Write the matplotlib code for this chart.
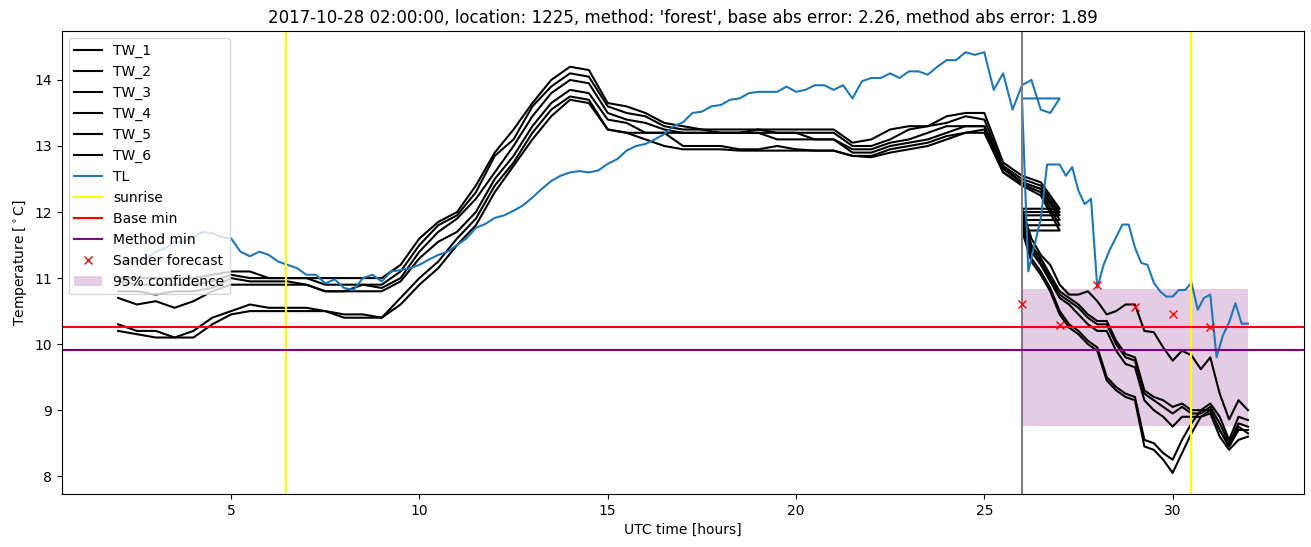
import matplotlib.pyplot as plt
import numpy as np

# observed period, half-hour readings (hours UTC)
t_obs = np.arange(2.0, 27.01, 0.5)
# forecast period, quarter-hour readings
t_fc = np.arange(26.0, 32.01, 0.25)
# TL forecast, ten-minute readings
t_tl_fc = np.arange(26.0, 32.01, 1 / 6)
# TL observed, quarter-hour readings
t_tl_obs = np.arange(2.0, 27.01, 0.25)

tw1_obs = [11.0, 11.0, 11.0, 11.0, 11.0, 11.05, 11.1, 11.1, 11.0, 11.0, 11.0, 11.0, 11.0,
           11.0, 11.0, 11.2, 11.6, 11.85, 12.0, 12.4, 12.9, 13.25, 13.65, 14.0, 14.2, 14.15,
           13.65, 13.6, 13.5, 13.35, 13.3, 13.25, 13.25, 13.25, 13.25, 13.25, 13.25, 13.25,
           13.25, 13.05, 13.1, 13.25, 13.3, 13.3, 13.45, 13.5, 13.5, 12.75, 12.55, 12.45, 12.05]
tw2_obs = [10.95, 10.9, 10.9, 10.9, 10.9, 10.95, 11.05, 11.0, 11.0, 11.0, 11.0, 10.9, 10.9,
           10.9, 10.9, 11.1, 11.5, 11.8, 11.95, 12.3, 12.85, 13.1, 13.6, 13.9, 14.1, 14.05,
           13.6, 13.5, 13.45, 13.3, 13.25, 13.25, 13.2, 13.2, 13.25, 13.2, 13.2, 13.2, 13.2,
           13.0, 13.0, 13.1, 13.25, 13.3, 13.35, 13.45, 13.4, 12.7, 12.5, 12.4, 12.0]
tw3_obs = [10.8, 10.8, 10.75, 10.8, 10.8, 10.85, 11.0, 10.95, 10.95, 10.95, 10.9, 10.8, 10.8,
           10.9, 10.85, 11.0, 11.4, 11.7, 11.9, 12.2, 12.6, 13.0, 13.45, 13.8, 14.0, 13.95,
           13.5, 13.4, 13.35, 13.25, 13.2, 13.2, 13.2, 13.2, 13.2, 13.2, 13.2, 13.1, 13.1,
           12.95, 12.95, 13.05, 13.1, 13.2, 13.3, 13.3, 13.3, 12.68, 12.45, 12.35, 11.95]
tw4_obs = [10.7, 10.6, 10.65, 10.55, 10.65, 10.8, 10.9, 10.9, 10.9, 10.9, 10.9, 10.8, 10.8,
           10.8, 10.8, 10.95, 11.3, 11.55, 11.7, 12.0, 12.5, 12.85, 13.3, 13.65, 13.85, 13.8,
           13.4, 13.35, 13.2, 13.2, 13.2, 13.2, 13.2, 13.2, 13.2, 13.1, 13.1, 13.1, 13.1,
           12.9, 12.9, 13.0, 13.05, 13.1, 13.2, 13.3, 13.3, 12.65, 12.45, 12.35, 11.88]
tw5_obs = [10.3, 10.2, 10.2, 10.1, 10.2, 10.4, 10.5, 10.6, 10.55, 10.55, 10.55, 10.5, 10.45,
           10.45, 10.4, 10.7, 11.0, 11.25, 11.6, 11.9, 12.4, 12.75, 13.2, 13.55, 13.75, 13.7,
           13.25, 13.2, 13.2, 13.2, 13.0, 13.0, 13.0, 12.95, 12.95, 13.0, 12.95, 12.93, 12.93,
           12.85, 12.85, 12.95, 13.0, 13.05, 13.15, 13.2, 13.25, 12.6, 12.42, 12.3, 11.8]
tw6_obs = [10.2, 10.15, 10.1, 10.1, 10.1, 10.3, 10.45, 10.5, 10.5, 10.5, 10.5, 10.5, 10.4,
           10.4, 10.4, 10.6, 10.9, 11.15, 11.5, 11.8, 12.3, 12.7, 13.1, 13.45, 13.7, 13.65,
           13.25, 13.2, 13.1, 13.0, 12.95, 12.95, 12.95, 12.93, 12.93, 12.93, 12.93, 12.93, 12.93,
           12.85, 12.83, 12.9, 12.95, 13.0, 13.1, 13.2, 13.2, 12.6, 12.4, 12.25, 11.72]

tw1_fc = [12.05, 11.6, 11.35, 11.2, 10.9, 10.75, 10.75, 10.8, 10.65, 10.45, 10.5, 10.6, 10.6,
          10.2, 10.18, 9.95, 9.75, 9.9, 9.83, 9.62, 9.8, 9.25, 8.86, 9.15, 9.0]
tw2_fc = [12.0, 11.5, 11.3, 11.05, 10.8, 10.7, 10.6, 10.45, 10.35, 10.35, 10.05, 9.85, 9.8,
          9.3, 9.2, 9.15, 9.05, 9.1, 9.0, 9.0, 9.1, 8.9, 8.55, 8.9, 8.85]
tw3_fc = [11.95, 11.45, 11.25, 11.0, 10.75, 10.65, 10.55, 10.4, 10.3, 10.3, 10.0, 9.8, 9.75,
          9.25, 9.15, 9.05, 8.95, 9.05, 8.95, 8.95, 9.05, 8.8, 8.5, 8.8, 8.75]
tw4_fc = [11.88, 11.4, 11.2, 10.95, 10.7, 10.6, 10.45, 10.3, 10.2, 10.2, 9.9, 9.7, 9.65,
          9.15, 9.0, 8.9, 8.75, 8.9, 8.9, 8.9, 9.0, 8.7, 8.45, 8.7, 8.7]
tw5_fc = [11.8, 11.3, 11.1, 10.85, 10.5, 10.3, 10.2, 10.05, 9.95, 9.5, 9.35, 9.25, 9.2,
          8.55, 8.5, 8.35, 8.25, 8.55, 8.8, 9.0, 9.0, 8.7, 8.45, 8.75, 8.65]
tw6_fc = [11.72, 11.25, 11.05, 10.8, 10.45, 10.25, 10.15, 10.0, 9.9, 9.45, 9.3, 9.2, 9.15,
          8.45, 8.4, 8.25, 8.05, 8.35, 8.65, 8.9, 8.95, 8.6, 8.4, 8.55, 8.6]

tl_obs = [11.2, 11.25, 11.25, 11.3, 11.4, 11.45, 11.55, 11.55, 11.62, 11.7, 11.68, 11.62,
          11.6, 11.4, 11.33, 11.4, 11.35, 11.25, 11.2, 11.15, 11.05, 11.05, 10.92, 10.98,
          10.85, 10.82, 11.0, 11.05, 10.95, 11.1, 11.12, 11.15, 11.2, 11.28, 11.35, 11.4,
          11.5, 11.6, 11.76, 11.82, 11.91, 11.95, 12.02, 12.1, 12.22, 12.35, 12.47, 12.55,
          12.6, 12.62, 12.6, 12.63, 12.73, 12.8, 12.93, 13.0, 13.03, 13.1, 13.18, 13.3,
          13.36, 13.5, 13.52, 13.6, 13.62, 13.7, 13.72, 13.8, 13.82, 13.82, 13.82, 13.9,
          13.82, 13.85, 13.92, 13.92, 13.85, 13.92, 13.72, 13.98, 14.03, 14.03, 14.1, 14.03,
          14.13, 14.13, 14.08, 14.2, 14.3, 14.3, 14.42, 14.38, 14.42, 13.85, 14.1, 13.55,
          13.92, 14.0, 13.55, 13.5, 13.72]
tl_fc = [13.72, 11.1, 11.5, 11.9, 12.72, 12.72, 12.72, 12.55, 12.68, 12.32, 12.12, 12.2,
         10.85, 11.2, 11.43, 11.62, 11.81, 11.81, 11.46, 11.23, 11.2, 10.93, 10.8, 10.72,
         10.72, 10.82, 10.82, 10.93, 10.52, 10.7, 10.75, 9.8, 10.13, 10.33, 10.62, 10.31,
         10.31]

sunrise = [6.47, 30.5]
forecast_start = 26.0
base_min = 10.26
method_min = 9.91
sander_t = [26, 27, 28, 29, 30, 31]
sander_val = [10.61, 10.29, 10.90, 10.56, 10.46, 10.26]
conf_t = [26, 32]
conf_low = 8.76
conf_high = 10.84

tw_obs = [tw1_obs, tw2_obs, tw3_obs, tw4_obs, tw5_obs, tw6_obs]
tw_fc = [tw1_fc, tw2_fc, tw3_fc, tw4_fc, tw5_fc, tw6_fc]

fig = plt.figure(figsize=(13.11, 5.47))
ax = fig.add_subplot(111)
fig.subplots_adjust(left=0.047, right=0.995, top=0.943, bottom=0.097)

for i, (obs, fc) in enumerate(zip(tw_obs, tw_fc)):
    ax.plot(np.concatenate([t_obs, t_fc]), np.concatenate([obs, fc]),
            color='black', label=f'TW_{i + 1}')
ax.plot(np.concatenate([t_tl_obs, t_tl_fc]), np.concatenate([tl_obs, tl_fc]),
        color='#1f77b4', label='TL')

ax.axvline(sunrise[0], color='yellow', label='sunrise')
ax.axvline(sunrise[1], color='yellow')
ax.axvline(forecast_start, color='gray')
ax.axhline(base_min, color='red', label='Base min')
ax.axhline(method_min, color='purple', label='Method min')
ax.plot(sander_t, sander_val, 'x', color='red', label='Sander forecast')
ax.fill_between(conf_t, conf_low, conf_high, color='purple', alpha=0.2,
                linewidth=0, label='95% confidence')

ax.set_xlabel('UTC time [hours]')
ax.set_ylabel(r'Temperature [$^\circ$C]')
ax.set_title("2017-10-28 02:00:00, location: 1225, method: 'forest', "
             "base abs error: 2.26, method abs error: 1.89")
ax.legend(loc='upper left')

plt.savefig('out.png', dpi=100)
